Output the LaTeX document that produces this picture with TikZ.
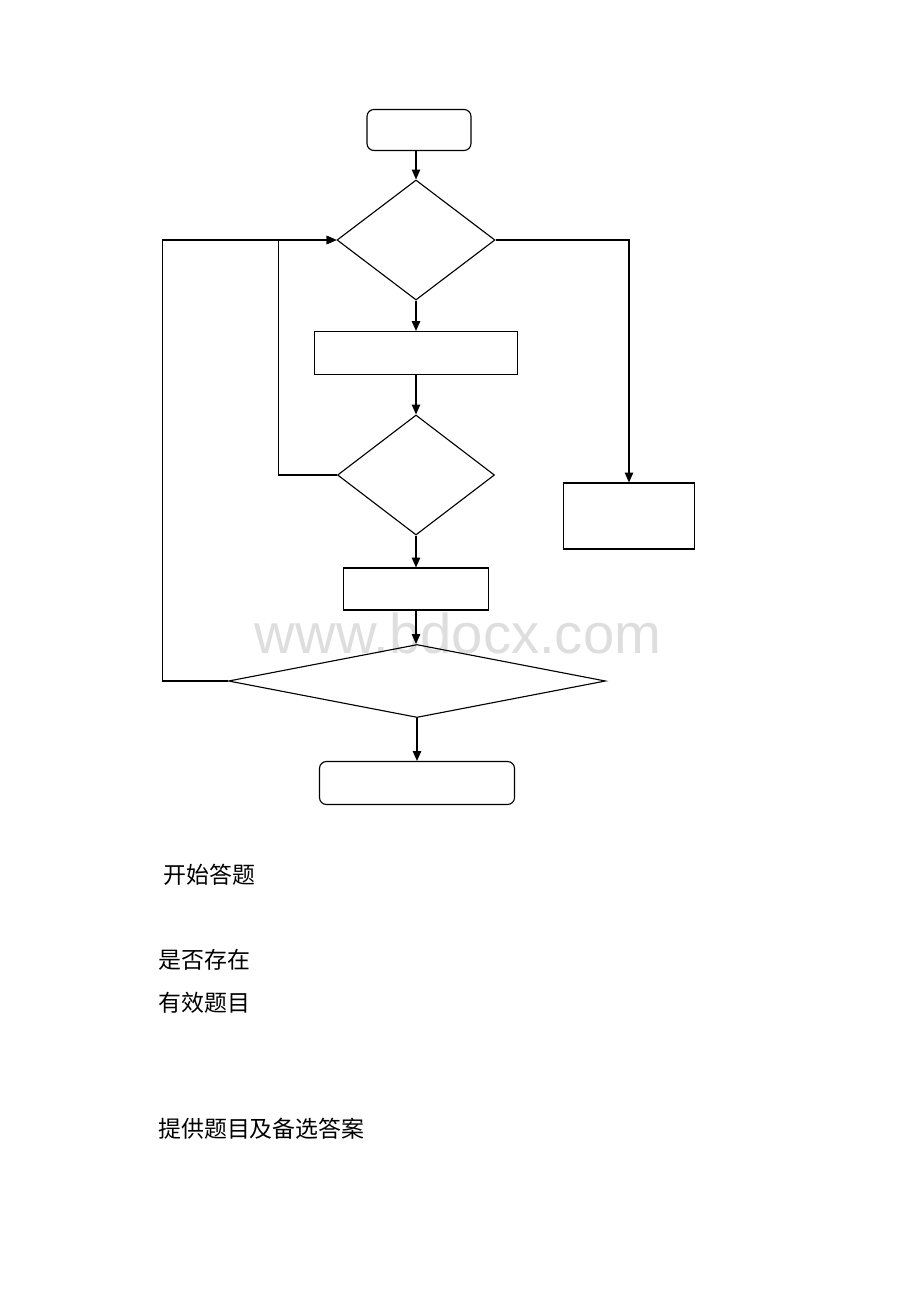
\documentclass[tikz,border=0pt]{standalone}
\usepackage{fontspec}
\newfontfamily\cjk{Noto Sans CJK SC}
\newfontfamily\wmfont{Liberation Sans}
\usetikzlibrary{shapes.geometric,arrows.meta}
\tikzset{
  line/.style = {line width=0.8pt},
  arr/.style = {line, -{Triangle[length=7pt,width=6pt]}},
  termbox/.style = {line, draw, rounded corners=5pt, inner sep=0pt},
  procbox/.style = {line, draw, inner sep=0pt},
  decide/.style = {line, draw, diamond, inner sep=0pt},
  label/.style = {anchor=west, inner sep=0pt, font=\cjk\fontsize{16.3}{20}\selectfont},
  wm/.style = {text=black!13, inner sep=0pt, font=\wmfont\fontsize{40}{48}\selectfont}
}
\begin{document}
\begin{tikzpicture}[x=0.025cm, y=-0.025cm]
    \useasboundingbox (0,0) rectangle (920,1302);
    \node[wm] (mark) at (458,633) {www.bdocx.com};

    \node[termbox, minimum width=2.6cm, minimum height=1.025cm] (start) at (419,130) {};
    \node[decide, minimum width=3.95cm, minimum height=3cm] (hasq) at (416,240) {};
    \node[procbox, minimum width=5.075cm, minimum height=1.075cm] (showq) at (416,353) {};
    \node[decide, minimum width=3.925cm, minimum height=3cm] (answered) at (416,475) {};
    \node[procbox, minimum width=3.625cm, minimum height=1.05cm] (record) at (416,589) {};
    \node[decide, minimum width=9.425cm, minimum height=1.825cm] (more) at (417,681) {};
    \node[termbox, minimum width=4.875cm, minimum height=1.075cm] (finish) at (417,783) {};
    \node[procbox, minimum width=3.275cm, minimum height=1.65cm] (noq) at (629,516) {};

    \draw[arr] (start.south -| hasq.north) -- (hasq.north);
    \draw[arr] (hasq) -- (showq);
    \draw[arr] (showq) -- (answered);
    \draw[arr] (answered) -- (record);
    \draw[arr] (record.south) -- (record.south |- more.north);
    \draw[arr] (more) -- (finish);
    \draw[arr] (hasq.east) -| (noq.north);
    \draw[arr] (answered.west) -- ++(-58,0) |- (hasq.west);
    \draw[arr] (more.west) -- ++(-65,0) |- (hasq.west);

    % labels printed under the chart
    \node[label] (t1) at (163,875) {开始答题};
    \node[label] (t2) at (158,960) {是否存在};
    \node[label] (t3) at (158,1003) {有效题目};
    \node[label] (t4) at (158,1129) {提供题目及备选答案};
\end{tikzpicture}
\end{document}
